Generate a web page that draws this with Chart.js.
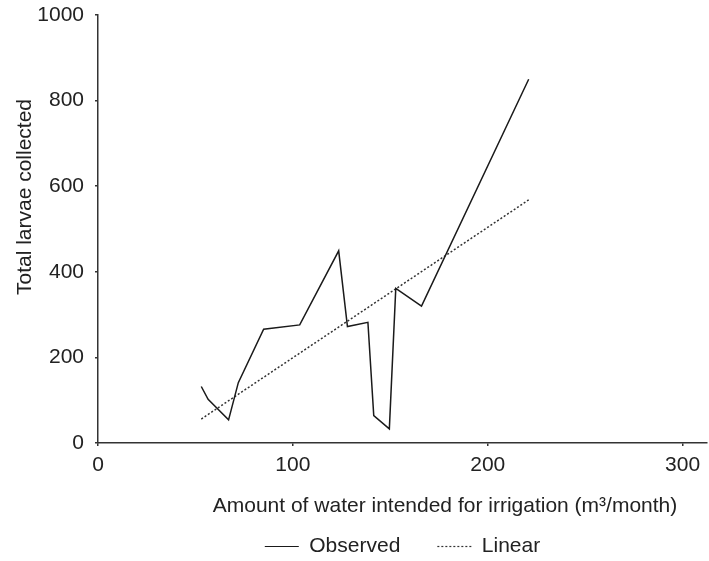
<!DOCTYPE html>
<html>
<head>
<meta charset="utf-8">
<script src="https://cdn.jsdelivr.net/npm/chart.js@4/dist/chart.umd.min.js"></script>
<style>
html,body{margin:0;padding:0;background:#fff;}
#wrap{width:709px;height:561px;position:relative;}
</style>
</head>
<body>
<div id="wrap"><canvas id="c" width="709" height="561"></canvas></div>
<script>
// Data
const observedX = [53, 56.5, 67, 72, 85, 103.5, 123.5, 128, 138.5, 141.5, 149.5, 152.8, 166, 221];
const observedY = [132, 102, 54, 141, 266, 276, 449, 272, 282, 64, 33, 361, 320, 850];
const linearX = [53, 221];
const linearY = [56, 568];
const xTicks = [0, 100, 200, 300];
const yTicks = [0, 200, 400, 600, 800, 1000];
const seriesNames = ['Observed', 'Linear'];
const xTitle = 'Amount of water intended for irrigation (m\u00B3/month)';
const yTitle = 'Total larvae collected';

const FONT = 'Liberation Sans, Arial, Helvetica, sans-serif';
const FS = 21;
const TXT = '#222';
const AX = '#333';

const titlesPlugin = {
  id: 'titlesPlugin',
  afterDraw(chart) {
    const ctx = chart.ctx, a = chart.chartArea;
    ctx.save();
    ctx.font = FS + 'px ' + FONT;
    ctx.fillStyle = TXT;
    ctx.textAlign = 'center';
    ctx.textBaseline = 'middle';
    ctx.fillText(xTitle, 445, a.bottom + 63);
    ctx.translate(25, 197);
    ctx.rotate(-Math.PI / 2);
    ctx.fillText(yTitle, 0, 0);
    ctx.restore();
  }
};

new Chart(document.getElementById('c'), {
  type: 'line',
  data: {
    datasets: [
      {
        label: seriesNames[0],
        data: observedX.map((x, i) => ({x: x, y: observedY[i]})),
        borderColor: '#1a1a1a',
        backgroundColor: '#1a1a1a',
        borderWidth: 1.5,
        pointRadius: 0,
        tension: 0,
        fill: false
      },
      {
        label: seriesNames[1],
        data: linearX.map((x, i) => ({x: x, y: linearY[i]})),
        borderColor: '#333',
        backgroundColor: '#333',
        borderWidth: 1.5,
        borderDash: [2, 2],
        pointRadius: 0,
        tension: 0,
        fill: false
      }
    ]
  },
  options: {
    responsive: false,
    animation: false,
    events: [],
    layout: {padding: {left: 0, right: 2, top: 15, bottom: -6}},
    plugins: {
      tooltip: {enabled: false},
      title: {display: false},
      legend: {
        display: true,
        position: 'bottom',
        fullSize: false,
        labels: {
          usePointStyle: true,
          pointStyle: 'line',
          pointStyleWidth: 34,
          boxWidth: 34,
          padding: 37,
          color: TXT,
          font: {family: FONT, size: FS},
          generateLabels: (chart) => {
            const items = Chart.defaults.plugins.legend.labels.generateLabels(chart);
            items.forEach((it) => {
              const ds = chart.data.datasets[it.datasetIndex];
              it.lineDash = ds.borderDash || [];
              it.lineWidth = 1.2;
              it.strokeStyle = ds.borderColor;
              it.pointStyle = 'line';
            });
            return items;
          }
        }
      }
    },
    scales: {
      x: {
        type: 'linear',
        min: 0,
        max: 312.5,
        afterBuildTicks: (s) => { s.ticks = xTicks.map(v => ({value: v})); },
        afterFit: (s) => { s.height = 56; s.paddingLeft = 0; s.paddingRight = 0; },
        border: {display: true, color: AX, width: 1.5},
        grid: {drawOnChartArea: false, drawTicks: true, tickLength: 3, color: AX, lineWidth: 1.5},
        ticks: {color: TXT, font: {family: FONT, size: FS}, padding: 7, maxRotation: 0}
      },
      y: {
        type: 'linear',
        min: 0,
        max: 1000,
        afterBuildTicks: (s) => { s.ticks = yTicks.map(v => ({value: v})); },
        afterFit: (s) => { s.width = 98; s.paddingTop = 0; s.paddingBottom = 0; },
        border: {display: true, color: AX, width: 1.5},
        grid: {drawOnChartArea: false, drawTicks: true, tickLength: 3, color: AX, lineWidth: 1.5},
        ticks: {color: TXT, font: {family: FONT, size: FS}, padding: 11, callback: (v) => String(v)},
        title: {display: false}
      }
    }
  },
  plugins: [titlesPlugin]
});
</script>
</body>
</html>
